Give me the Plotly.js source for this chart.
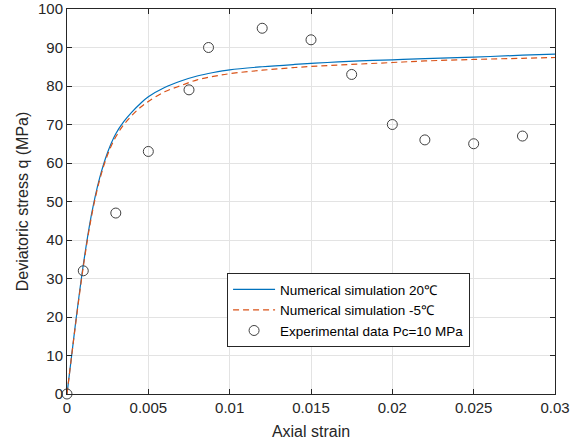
<!DOCTYPE html>
<html>
<head>
<meta charset="utf-8">
<script src="https://cdn.plot.ly/plotly-3.0.1.min.js"></script>
<style>
html,body{margin:0;padding:0;background:#fff;}
#chart{width:577px;height:443px;}
</style>
</head>
<body>
<div id="chart"></div>
<script>
// Numerical simulation 20℃ (solid blue)
const simStrain = [0, 0.0005, 0.001, 0.0015, 0.002, 0.0025, 0.003, 0.0035, 0.004, 0.0045, 0.005, 0.006, 0.007, 0.008, 0.009, 0.01, 0.012, 0.014, 0.016, 0.018, 0.02, 0.022, 0.025, 0.028, 0.03];
const sim20 = [0, 17.5, 33.5, 46.5, 56, 62.8, 67.6, 70.8, 73.3, 75.4, 77.2, 79.6, 81.3, 82.6, 83.5, 84.2, 85.0, 85.6, 86.1, 86.5, 86.8, 87.1, 87.5, 88.0, 88.3];
// Numerical simulation -5℃ (dashed orange)
const simM5 = [0, 17.2, 33, 46, 55.5, 62.2, 66.8, 70.0, 72.4, 74.4, 76.0, 78.5, 80.1, 81.6, 82.5, 83.2, 84.1, 84.8, 85.3, 85.7, 86.1, 86.5, 86.9, 87.2, 87.4];
// Experimental data Pc=10 MPa
const expStrain = [0, 0.001, 0.003, 0.005, 0.0075, 0.0087, 0.012, 0.015, 0.0175, 0.02, 0.022, 0.025, 0.028];
const expStress = [0, 32, 47, 63, 79, 90, 95, 92, 83, 70, 66, 65, 67];
// Tick labels
const xTickVals = [0, 0.005, 0.01, 0.015, 0.02, 0.025, 0.03];
const xTickText = ["0", "0.005", "0.01", "0.015", "0.02", "0.025", "0.03"];
const yTickVals = [0, 10, 20, 30, 40, 50, 60, 70, 80, 90, 100];

const font = "Liberation Sans, Arial, Helvetica, sans-serif";
const axisColor = "#262626";
const gridColor = "#e3e3e3";

const traces = [
  {x: simStrain, y: sim20, type: "scatter", mode: "lines", name: "Numerical simulation 20℃",
   line: {color: "#0072BD", width: 1.2, shape: "spline", smoothing: 1}},
  {x: simStrain, y: simM5, type: "scatter", mode: "lines", name: "Numerical simulation -5℃",
   line: {color: "#D95319", width: 1.2, dash: "6px,4px", shape: "spline", smoothing: 1}},
  {x: expStrain, y: expStress, type: "scatter", mode: "markers", name: "Experimental data Pc=10 MPa",
   cliponaxis: false,
   marker: {symbol: "circle-open", size: 10, color: "#404040", line: {width: 1, color: "#404040"}}}
];

const axisCommon = {
  showline: true, linecolor: axisColor, linewidth: 1, mirror: "ticks",
  ticks: "inside", ticklen: 5, tickwidth: 1, tickcolor: axisColor,
  showgrid: true, gridcolor: gridColor, gridwidth: 1, zeroline: false,
  tickfont: {family: font, size: 15, color: axisColor}
};

const layout = {
  width: 577, height: 443,
  margin: {l: 67, r: 22, t: 9, b: 49},
  paper_bgcolor: "#ffffff", plot_bgcolor: "#ffffff",
  showlegend: true,
  legend: {x: 0.328, y: 0.314, xanchor: "left", yanchor: "top",
    bgcolor: "#ffffff", bordercolor: axisColor, borderwidth: 1, itemwidth: 42,
    font: {family: font, size: 13.5, color: "#000000"}, tracegroupgap: 0},
  xaxis: Object.assign({}, axisCommon, {
    range: [0, 0.03], tickvals: xTickVals, ticktext: xTickText,
    title: {text: "Axial strain", font: {family: font, size: 16, color: axisColor}, standoff: 10}
  }),
  yaxis: Object.assign({}, axisCommon, {
    range: [0, 100], tickvals: yTickVals,
    title: {text: "Deviatoric stress q (MPa)", font: {family: font, size: 16, color: axisColor}, standoff: 5}
  })
};

Plotly.newPlot("chart", traces, layout, {displayModeBar: false, staticPlot: true});
</script>
</body>
</html>
